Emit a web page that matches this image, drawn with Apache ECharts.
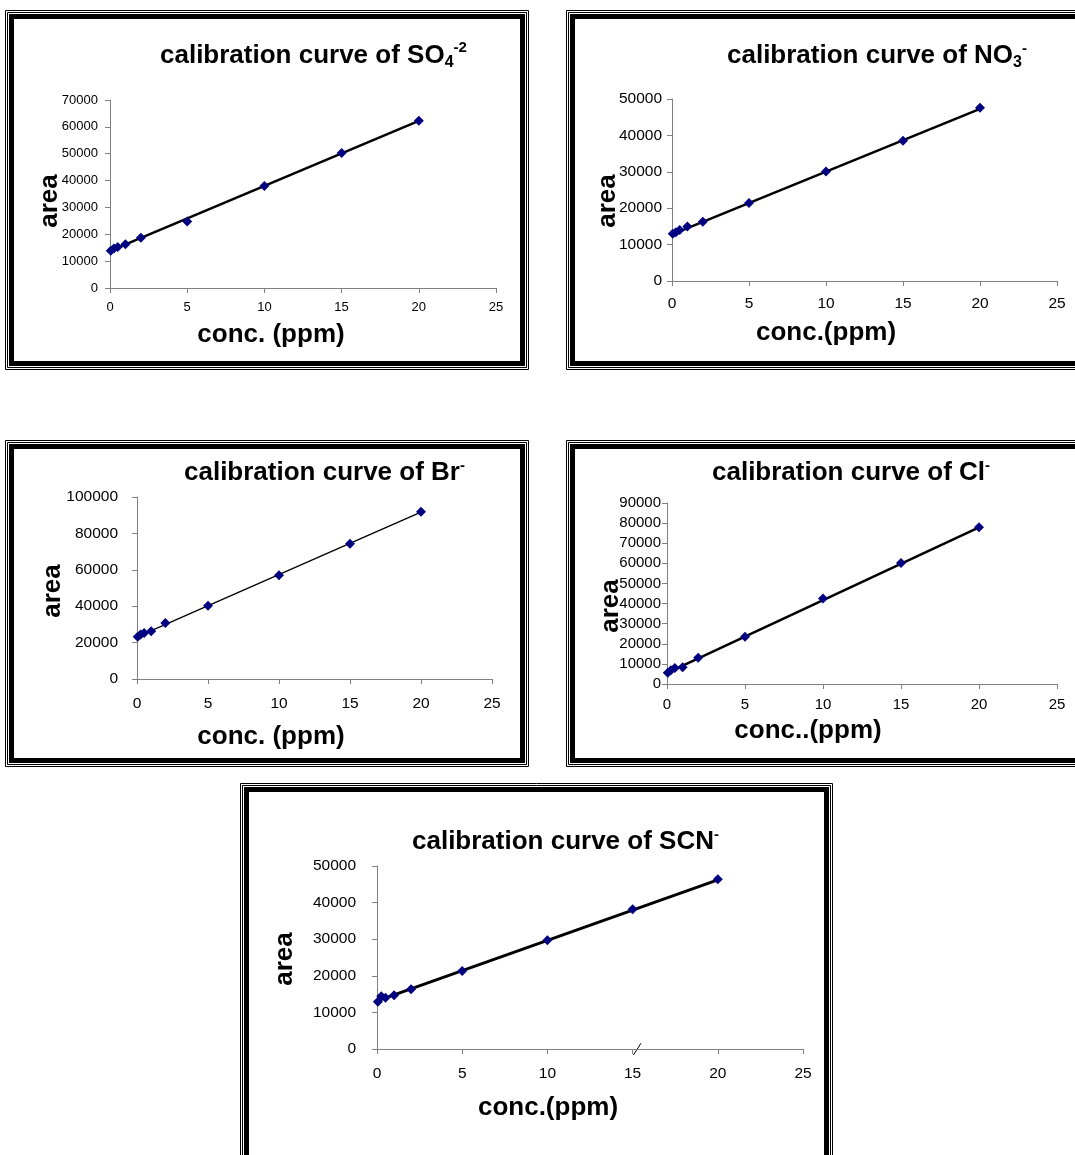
<!DOCTYPE html>
<html>
<head>
<meta charset="utf-8">
<script src="https://cdn.jsdelivr.net/npm/echarts@6/dist/echarts.min.js"></script>
<style>
  html, body { margin: 0; padding: 0; background: #ffffff; }
  #chart { width: 1075px; height: 1155px; }
</style>
</head>
<body>
<div id="chart"></div>
<script>
// Standard concentrations (ppm) used for every ion
const conc = [0.05, 0.25, 0.5, 1, 2, 5, 10, 15, 20];

// Measured peak areas
const so4Area = [13900, 14700, 15300, 16300, 18700, 24800, 38000, 50300, 62300];
const no3Area = [13000, 13400, 14000, 15000, 16300, 21400, 30100, 38500, 47600];
const brArea  = [23200, 24500, 25300, 26300, 30800, 40200, 57000, 74300, 91900];
const clArea  = [5600, 6800, 7900, 8300, 13000, 23500, 42500, 60200, 78000];
const scnArea = [12900, 14400, 14000, 14700, 16300, 21300, 29700, 38200, 46400];

// Linear trend lines: area at the first and last standard
const fitConc = [0.05, 20];
const so4Fit = [13900, 62200];
const no3Fit = [12900, 47300];
const brFit  = [23300, 91700];
const clFit  = [5600, 77900];
const scnFit = [13200, 46200];

// Axis scales
const xMax = 25, xStep = 5;
const yMaxes = [70000, 50000, 100000, 90000, 50000];
const ySteps = [10000, 10000, 20000, 10000, 10000];

// Text
const titleMain = ['calibration curve of SO', 'calibration curve of NO', 'calibration curve of Br', 'calibration curve of Cl', 'calibration curve of SCN'];
const titleSub  = ['4', '3', '', '', ''];
const titleSup  = ['-2', '-', '-', '-', '-'];
const xTitles = ['conc. (ppm)', 'conc.(ppm)', 'conc. (ppm)', 'conc..(ppm)', 'conc.(ppm)'];
const yTitle = 'area';

const areas = [so4Area, no3Area, brArea, clArea, scnArea];
const fits  = [so4Fit, no3Fit, brFit, clFit, scnFit];

const FONT = "'Liberation Sans', Arial, Helvetica, sans-serif";
const BIG = 26;

// Layout of the five framed panels (pixels)
const panels = [
  { frame: [5, 10, 529, 370],    grid: { left: 110, top: 100, width: 386, height: 188 }, tickFont: 13,   yMargin: 12, xMargin: 13, lineW: 2.5,
    title: [160, 64.5], yName: [49.8, 201], xName: [271, 334.6] },
  { frame: [566, 10, 1090, 370], grid: { left: 672, top: 99,  width: 385, height: 182 }, tickFont: 15.5, yMargin: 10, xMargin: 15, lineW: 2.5,
    title: [727, 65],   yName: [608, 201], xName: [826, 333] },
  { frame: [5, 440, 529, 767],   grid: { left: 137, top: 497, width: 355, height: 182 }, tickFont: 15.5, yMargin: 19, xMargin: 17, lineW: 1.3,
    title: [184, 482],  yName: [52.6, 591], xName: [271, 737.3] },
  { frame: [566, 440, 1090, 767], grid: { left: 667, top: 503, width: 390, height: 181 }, tickFont: 15,  yMargin: 6,  xMargin: 13, lineW: 2.5,
    title: [712, 482],  yName: [611.3, 606], xName: [808, 731.3] },
  { frame: [240, 783, 833, 1175], grid: { left: 377, top: 866, width: 426, height: 183 }, tickFont: 15.5, yMargin: 21, xMargin: 17, lineW: 3,
    title: [412, 851],  yName: [285, 959], xName: [548, 1108] }
];

const axisGray = '#808080';
const grids = [], xAxes = [], yAxes = [], series = [], graphics = [];

// Double border: two hairlines outside a heavy band
function frame(x0, y0, x1, y1) {
  const w = x1 - x0, h = y1 - y0;
  const rect = (inset, lw) => ({
    type: 'rect', silent: true,
    shape: { x: x0 + inset, y: y0 + inset, width: w - 2 * inset, height: h - 2 * inset },
    style: { fill: 'none', stroke: '#000', lineWidth: lw }
  });
  return [rect(0.5, 1), rect(2.5, 1), rect(6.5, 5)];
}

const titleRich = {
  m:   { fontFamily: FONT, fontWeight: 'bold', fontSize: BIG, lineHeight: 30, fill: '#000' },
  sub: { fontFamily: FONT, fontWeight: 'bold', fontSize: 16, lineHeight: 16, verticalAlign: 'bottom', fill: '#000' },
  sup: { fontFamily: FONT, fontWeight: 'bold', fontSize: 15, lineHeight: 15, verticalAlign: 'top', fill: '#000' }
};

const plain = v => String(v);

panels.forEach((p, i) => {
  grids.push(Object.assign({ containLabel: false }, p.grid));

  xAxes.push({
    gridIndex: i, type: 'value', min: 0, max: xMax, interval: xStep,
    axisLine: { show: true, onZero: false, lineStyle: { color: axisGray, width: 1 } },
    axisTick: { show: true, length: 5, lineStyle: { color: axisGray, width: 1 } },
    axisLabel: { fontFamily: FONT, fontSize: p.tickFont, color: '#000', margin: p.xMargin, formatter: plain },
    splitLine: { show: false }
  });
  yAxes.push({
    gridIndex: i, type: 'value', min: 0, max: yMaxes[i], interval: ySteps[i],
    axisLine: { show: true, onZero: false, lineStyle: { color: axisGray, width: 1 } },
    axisTick: { show: true, length: 5, lineStyle: { color: axisGray, width: 1 } },
    axisLabel: { fontFamily: FONT, fontSize: p.tickFont, color: '#000', margin: p.yMargin, formatter: plain },
    splitLine: { show: false }
  });

  series.push({
    type: 'line', xAxisIndex: i, yAxisIndex: i,
    data: fitConc.map((c, k) => [c, fits[i][k]]),
    showSymbol: false, silent: true, z: 2,
    lineStyle: { color: '#000', width: p.lineW }
  });
  series.push({
    type: 'scatter', xAxisIndex: i, yAxisIndex: i,
    data: conc.map((c, k) => [c, areas[i][k]]),
    symbol: 'diamond', symbolSize: 10, z: 3,
    itemStyle: { color: '#000080', opacity: 1 }
  });

  graphics.push(...frame(...p.frame));

  // chart title with sub/superscript
  let txt = '{m|' + titleMain[i] + '}';
  if (titleSub[i]) txt += '{sub|' + titleSub[i] + '}';
  if (titleSup[i]) txt += '{sup|' + titleSup[i] + '}';
  graphics.push({
    type: 'text', silent: true,
    x: p.title[0], y: p.title[1] - 15 - 0.3465 * BIG,
    style: { text: txt, rich: titleRich, align: 'left', verticalAlign: 'top' }
  });

  // axis titles
  graphics.push({
    type: 'text', silent: true, x: p.yName[0], y: p.yName[1], rotation: Math.PI / 2,
    style: { text: yTitle, fontFamily: FONT, fontWeight: 'bold', fontSize: BIG, fill: '#000', align: 'center', verticalAlign: 'middle' }
  });
  graphics.push({
    type: 'text', silent: true, x: p.xName[0], y: p.xName[1],
    style: { text: xTitles[i], fontFamily: FONT, fontWeight: 'bold', fontSize: BIG, fill: '#000', align: 'center', verticalAlign: 'middle' }
  });
});

// small break stroke across the SCN concentration axis
graphics.push({
  type: 'line', silent: true,
  shape: { x1: 633.4, y1: 1055, x2: 641, y2: 1043.3 },
  style: { stroke: '#000', lineWidth: 1 }
});

const chart = echarts.init(document.getElementById('chart'), null, { renderer: 'canvas' });
chart.setOption({
  animation: false,
  backgroundColor: '#ffffff',
  grid: grids,
  xAxis: xAxes,
  yAxis: yAxes,
  series: series,
  graphic: graphics
});
</script>
</body>
</html>
